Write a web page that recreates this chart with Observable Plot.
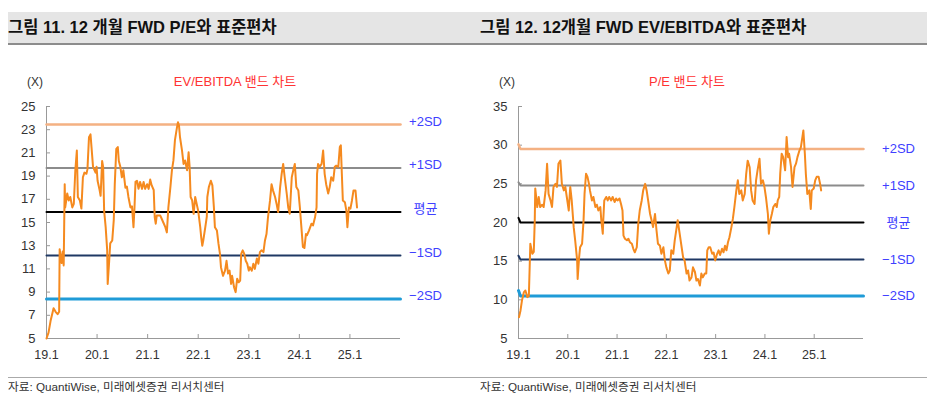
<!DOCTYPE html>
<html>
<head>
<meta charset="utf-8">
<script src="https://cdn.jsdelivr.net/npm/d3@7"></script>
<script src="https://cdn.jsdelivr.net/npm/@observablehq/plot@0.6"></script>
<style>
  html, body { margin: 0; padding: 0; background: #fff; }
  #wrap { position: relative; width: 936px; height: 409px; overflow: hidden; font-family: "Liberation Sans", "Noto Sans CJK KR", sans-serif; color: #222; }
  .band { position: absolute; left: 8px; top: 12px; width: 919px; height: 31px; background: #e5e5e5; border-bottom: 2px solid #8c8c8c; }
  .title { position: absolute; top: 12px; height: 31px; line-height: 31px; font-size: 16.5px; font-weight: bold; color: #111; white-space: nowrap; }
  .unit { position: absolute; top: 75px; font-size: 12px; line-height: 14px; color: #333; }
  .sub { position: absolute; top: 74px; font-size: 13px; line-height: 16px; color: #ff3333; white-space: nowrap; transform: translateX(-50%); }
  .rule { position: absolute; left: 8px; top: 377px; width: 919px; height: 1px; background: #aaa; }
  .foot { position: absolute; top: 380px; font-size: 11.7px; line-height: 14px; color: #333; white-space: nowrap; }
  .chart { position: absolute; top: 96px; }
</style>
</head>
<body>
<div id="wrap">
  <div class="band"></div>
  <div class="title" style="left:8px">그림 11. 12 개월 FWD P/E와 표준편차</div>
  <div class="title" style="left:480px">그림 12. 12개월 FWD EV/EBITDA와 표준편차</div>
  <div class="unit" style="left:27px">(X)</div>
  <div class="unit" style="left:499px">(X)</div>
  <div class="sub" style="left:235px">EV/EBITDA 밴드 차트</div>
  <div class="sub" style="left:687px">P/E 밴드 차트</div>
  <div class="rule"></div>
  <div class="foot" style="left:8px">자료: QuantiWise, 미래에셋증권 리서치센터</div>
  <div class="foot" style="left:480px">자료: QuantiWise, 미래에셋증권 리서치센터</div>
  <div id="left" class="chart" style="left:0px"></div>
  <div id="right" class="chart" style="left:470px"></div>
</div>
<script>
// ---------- data ----------
const xTicks = [2019, 2020, 2021, 2022, 2023, 2024, 2025];
const xTickLabels = ["19.1", "20.1", "21.1", "22.1", "23.1", "24.1", "25.1"];
const leftYTicks = [5, 7, 9, 11, 13, 15, 17, 19, 21, 23, 25];
const rightYTicks = [5, 10, 15, 20, 25, 30, 35];
const bandLabels = ["+2SD", "+1SD", "평균", "−1SD", "−2SD"];
const leftBandValues = [23.45, 19.7, 15.9, 12.15, 8.4];
const rightBandValues = [29.5, 24.8, 20.0, 15.2, 10.5];
const rightBandStartValues = [30.1, 25.2, 20.6, 15.7, 11.2];

// [time (decimal year), multiple]
const leftSeries = [[2019.00,5.0],[2019.04,5.5],[2019.08,6.5],[2019.14,7.6],[2019.18,7.3],[2019.22,7.1],[2019.25,7.3],[2019.26,12.7],[2019.30,11.5],[2019.32,12.5],[2019.34,11.3],[2019.36,18.3],[2019.37,16.3],[2019.41,17.5],[2019.44,16.9],[2019.47,17.2],[2019.51,16.3],[2019.54,16.6],[2019.57,19.5],[2019.60,21.2],[2019.62,17.2],[2019.66,16.9],[2019.69,16.2],[2019.72,18.9],[2019.75,19.3],[2019.79,19.2],[2019.81,19.6],[2019.84,22.35],[2019.87,22.6],[2019.89,21.5],[2019.92,19.8],[2019.97,19.3],[2019.99,19.8],[2020.01,18.6],[2020.05,17.8],[2020.07,17.3],[2020.10,20.3],[2020.12,19.8],[2020.14,16.0],[2020.17,14.6],[2020.20,12.6],[2020.21,9.7],[2020.24,11.7],[2020.26,13.2],[2020.30,13.45],[2020.33,15.2],[2020.35,18.3],[2020.38,21.35],[2020.41,21.5],[2020.43,20.3],[2020.46,19.8],[2020.49,18.9],[2020.52,19.5],[2020.56,18.0],[2020.59,18.1],[2020.62,17.2],[2020.66,16.3],[2020.69,16.4],[2020.72,14.6],[2020.74,16.3],[2020.76,18.5],[2020.79,18.6],[2020.82,17.9],[2020.85,18.5],[2020.89,17.9],[2020.92,18.5],[2020.95,17.9],[2020.99,18.3],[2021.02,17.9],[2021.05,18.7],[2021.08,18.2],[2021.12,17.8],[2021.14,15.45],[2021.16,14.9],[2021.18,15.6],[2021.25,15.6],[2021.28,15.3],[2021.31,15.0],[2021.35,14.6],[2021.38,14.15],[2021.41,16.3],[2021.45,18.05],[2021.48,19.5],[2021.51,20.35],[2021.54,22.1],[2021.58,23.2],[2021.60,23.65],[2021.62,23.35],[2021.64,22.35],[2021.68,21.2],[2021.71,20.05],[2021.74,20.35],[2021.78,19.5],[2021.81,21.05],[2021.83,19.8],[2021.85,17.2],[2021.88,16.9],[2021.91,15.75],[2021.94,17.2],[2021.97,16.6],[2022.00,16.0],[2022.04,14.6],[2022.06,13.7],[2022.08,13.0],[2022.10,13.45],[2022.14,14.6],[2022.17,15.5],[2022.18,17.2],[2022.21,18.05],[2022.25,18.6],[2022.28,18.2],[2022.31,16.3],[2022.33,14.6],[2022.37,14.3],[2022.40,13.2],[2022.43,12.3],[2022.45,11.15],[2022.49,10.4],[2022.53,10.85],[2022.56,11.7],[2022.59,10.6],[2022.62,10.85],[2022.65,9.7],[2022.67,10.4],[2022.71,9.4],[2022.74,9.0],[2022.77,10.15],[2022.80,9.85],[2022.83,10.0],[2022.85,12.3],[2022.88,12.6],[2022.91,12.3],[2022.94,11.7],[2022.97,11.45],[2023.00,10.85],[2023.02,11.15],[2023.06,10.85],[2023.09,11.45],[2023.12,11.0],[2023.16,11.9],[2023.19,11.45],[2023.22,12.45],[2023.25,12.6],[2023.29,12.45],[2023.32,13.45],[2023.35,14.0],[2023.38,15.45],[2023.42,16.9],[2023.45,18.3],[2023.48,17.75],[2023.52,17.2],[2023.55,16.6],[2023.58,15.9],[2023.62,18.05],[2023.65,19.2],[2023.68,20.05],[2023.71,18.9],[2023.75,17.5],[2023.78,16.3],[2023.81,15.75],[2023.85,18.9],[2023.88,19.5],[2023.91,20.05],[2023.94,18.05],[2023.98,17.75],[2024.01,16.3],[2024.04,14.6],[2024.07,12.9],[2024.10,12.8],[2024.13,14.0],[2024.15,13.9],[2024.19,14.3],[2024.24,14.9],[2024.27,14.75],[2024.31,15.45],[2024.34,16.3],[2024.35,19.2],[2024.37,20.05],[2024.40,19.8],[2024.44,20.05],[2024.47,21.2],[2024.50,19.2],[2024.53,18.3],[2024.57,17.5],[2024.60,18.05],[2024.63,18.9],[2024.67,18.6],[2024.70,19.8],[2024.73,19.9],[2024.77,19.8],[2024.80,21.5],[2024.82,21.65],[2024.84,19.2],[2024.86,16.9],[2024.90,16.75],[2024.93,16.0],[2024.95,14.6],[2024.98,16.3],[2025.01,16.2],[2025.04,16.9],[2025.07,17.75],[2025.11,17.75],[2025.14,16.3]];

const rightSeries = [[2019.01,7.75],[2019.04,8.6],[2019.07,9.9],[2019.11,11.0],[2019.14,11.2],[2019.18,10.35],[2019.21,10.5],[2019.24,17.25],[2019.28,15.95],[2019.31,16.2],[2019.33,20.3],[2019.34,24.4],[2019.38,22.0],[2019.41,23.3],[2019.44,22.0],[2019.48,22.3],[2019.51,22.0],[2019.55,24.15],[2019.58,27.6],[2019.61,23.7],[2019.65,22.85],[2019.68,22.0],[2019.71,24.6],[2019.75,25.0],[2019.78,24.6],[2019.81,27.6],[2019.85,28.0],[2019.88,25.0],[2019.92,24.15],[2019.95,24.6],[2019.98,23.3],[2020.02,21.55],[2020.05,24.6],[2020.08,22.85],[2020.12,19.4],[2020.15,17.7],[2020.19,15.1],[2020.20,12.7],[2020.23,15.5],[2020.25,16.8],[2020.29,17.25],[2020.32,20.3],[2020.34,23.7],[2020.37,26.3],[2020.40,25.9],[2020.43,25.0],[2020.45,24.15],[2020.49,22.85],[2020.52,23.3],[2020.56,22.0],[2020.59,22.3],[2020.62,21.55],[2020.66,22.0],[2020.68,20.3],[2020.71,18.55],[2020.72,20.3],[2020.74,22.85],[2020.78,23.3],[2020.81,22.85],[2020.84,23.3],[2020.88,22.85],[2020.91,23.3],[2020.95,22.65],[2020.98,23.1],[2021.01,22.85],[2021.05,23.1],[2021.08,22.4],[2021.11,21.55],[2021.13,18.3],[2021.16,17.9],[2021.20,17.7],[2021.23,17.9],[2021.26,17.45],[2021.30,17.25],[2021.33,16.6],[2021.36,16.15],[2021.40,16.8],[2021.43,19.85],[2021.46,21.55],[2021.50,22.85],[2021.53,24.15],[2021.57,25.0],[2021.60,24.15],[2021.63,22.85],[2021.67,21.1],[2021.70,20.3],[2021.73,19.4],[2021.77,21.1],[2021.80,19.0],[2021.83,17.25],[2021.87,17.0],[2021.90,15.95],[2021.94,16.8],[2021.97,15.1],[2022.00,14.2],[2022.04,13.4],[2022.07,13.8],[2022.10,16.4],[2022.14,15.95],[2022.17,17.7],[2022.21,19.4],[2022.23,20.3],[2022.27,18.55],[2022.31,16.8],[2022.34,15.5],[2022.37,15.1],[2022.41,13.4],[2022.44,13.8],[2022.47,12.5],[2022.51,12.9],[2022.54,14.2],[2022.58,13.6],[2022.61,12.5],[2022.64,12.7],[2022.68,11.85],[2022.71,13.4],[2022.74,12.9],[2022.78,13.4],[2022.81,13.4],[2022.83,16.4],[2022.86,16.8],[2022.89,16.8],[2022.93,15.95],[2022.96,16.1],[2022.99,15.1],[2023.03,15.95],[2023.06,16.4],[2023.09,15.8],[2023.13,16.6],[2023.16,16.15],[2023.19,17.0],[2023.22,16.4],[2023.25,17.45],[2023.28,18.1],[2023.32,19.4],[2023.35,20.5],[2023.38,22.0],[2023.42,24.15],[2023.45,25.45],[2023.48,23.7],[2023.52,24.15],[2023.55,22.85],[2023.59,23.7],[2023.62,26.3],[2023.65,28.0],[2023.69,27.15],[2023.72,24.15],[2023.75,22.85],[2023.79,22.4],[2023.82,25.45],[2023.85,26.75],[2023.89,28.25],[2023.92,25.0],[2023.96,25.45],[2023.99,24.6],[2024.02,23.3],[2024.06,21.1],[2024.08,18.55],[2024.11,20.3],[2024.14,21.1],[2024.17,22.0],[2024.21,22.4],[2024.24,22.0],[2024.26,22.85],[2024.29,23.3],[2024.31,26.3],[2024.34,28.9],[2024.37,28.45],[2024.41,26.75],[2024.44,31.05],[2024.47,28.45],[2024.49,28.9],[2024.53,27.15],[2024.56,24.6],[2024.60,27.15],[2024.63,27.6],[2024.66,28.45],[2024.70,29.3],[2024.73,29.75],[2024.76,31.05],[2024.78,31.9],[2024.81,28.9],[2024.83,26.3],[2024.86,23.7],[2024.90,24.15],[2024.93,21.75],[2024.95,24.15],[2024.99,24.4],[2025.02,25.45],[2025.05,25.9],[2025.09,25.9],[2025.12,25.0],[2025.14,24.15]];

// ---------- styles ----------
const bandColors = ["#F4B183", "#8C8C8C", "#000000", "#1F3864", "#1F9BD7"];
const bandWidths = [2.5, 2, 2, 2, 3];
const seriesColor = "#F58A1F";
const labelColor = "#4040FF";
const xDomain = [2019, 2026];

function bandChart({series, bandValues, startValues, yDomain, yTicks, width, marginLeft, marginRight, labelDx, labelDy}) {
  const bands = bandLabels.map((label, i) => ({
    label, v: bandValues[i], color: bandColors[i], w: bandWidths[i],
    pts: [
      {t: xDomain[0], v: startValues ? startValues[i] : bandValues[i]},
      {t: xDomain[0] + 0.04, v: bandValues[i]},
      {t: xDomain[1], v: bandValues[i]}
    ]
  }));
  const rows = series.map(([t, v]) => ({t, v}));
  const fmt = d => xTickLabels[xTicks.indexOf(d)];
  return Plot.plot({
    width, height: 270,
    marginLeft, marginRight, marginTop: 10, marginBottom: 28,
    style: {fontFamily: "'Liberation Sans', 'Noto Sans CJK KR', sans-serif", fontSize: "13px", background: "transparent", overflow: "visible"},
    x: {domain: xDomain, label: null},
    y: {domain: yDomain, label: null},
    marks: [
      Plot.ruleX([xDomain[0]], {stroke: "#999", strokeWidth: 1}),
      Plot.ruleY([yDomain[0]], {stroke: "#999", strokeWidth: 1}),
      Plot.axisY({ticks: yTicks, tickSize: 4, dx: 4, tickFormat: () => "", stroke: "#999", label: null}),
      Plot.axisY({ticks: yTicks, tickSize: 0, tickPadding: 11, fill: "#333", fontSize: 13, label: null}),
      Plot.axisX({ticks: xTicks, tickSize: 4, dy: -4, tickFormat: () => "", stroke: "#999", label: null}),
      Plot.axisX({ticks: xTicks, tickSize: 0, tickPadding: 12, tickFormat: fmt, fill: "#333", fontSize: 12.5, label: null}),
      ...bands.map(b => Plot.line(b.pts, {x: "t", y: "v", stroke: b.color, strokeWidth: b.w})),
      Plot.line(rows, {x: "t", y: "v", stroke: seriesColor, strokeWidth: 2, strokeLinejoin: "round"}),
      Plot.text(bands, {x: () => xDomain[1], y: "v", text: "label", dx: labelDx, dy: labelDy, fill: labelColor, fontSize: 13, textAnchor: "middle"})
    ]
  });
}

document.getElementById("left").appendChild(bandChart({
  series: leftSeries, bandValues: leftBandValues, startValues: null,
  yDomain: [5, 25], yTicks: leftYTicks, width: 468, marginLeft: 46, marginRight: 68,
  labelDx: 25, labelDy: -3
}));
document.getElementById("right").appendChild(bandChart({
  series: rightSeries, bandValues: rightBandValues, startValues: rightBandStartValues,
  yDomain: [5, 35], yTicks: rightYTicks, width: 466, marginLeft: 48, marginRight: 73,
  labelDx: 35, labelDy: 0
}));
</script>
</body>
</html>
